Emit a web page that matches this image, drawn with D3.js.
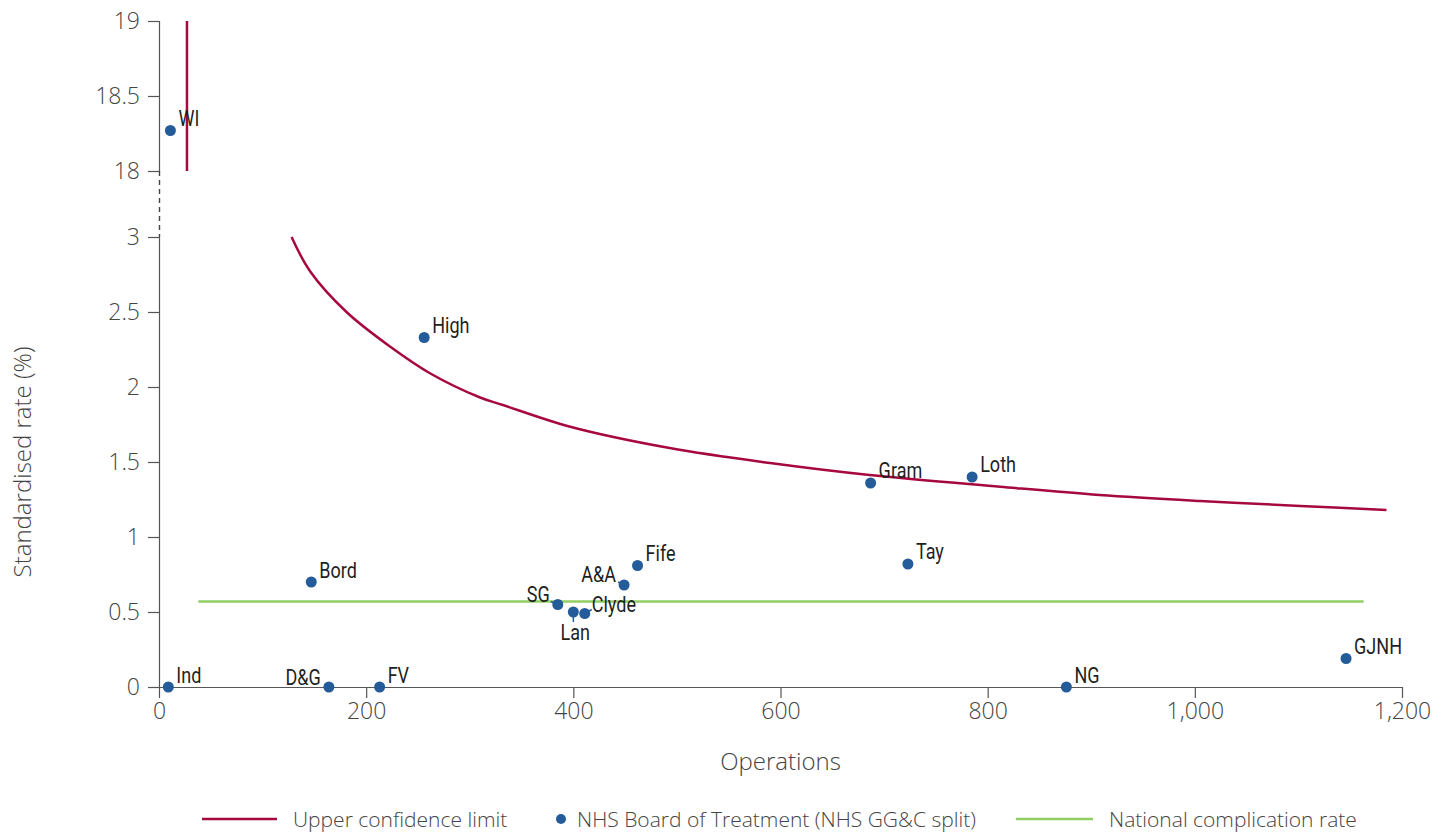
<!DOCTYPE html>
<html>
<head>
<meta charset="utf-8">
<script src="https://cdn.jsdelivr.net/npm/d3@7/dist/d3.min.js"></script>
<style>
  html, body { margin: 0; padding: 0; background: #fff; }
  svg { display: block; }
  .tick text { font-family: "Open Sans", "Noto Sans", sans-serif; font-weight: 300; font-size: 23px; fill: #444; }
  .board-label { font-family: Roboto, "Noto Sans", sans-serif; font-weight: 400; font-size: 22px; fill: #1f1f1f; }
  .title { font-family: "Open Sans", "Noto Sans", sans-serif; font-weight: 300; font-size: 24px; fill: #444; }
  .legend text { font-family: "Open Sans", "Noto Sans", sans-serif; font-weight: 300; font-size: 21px; fill: #444; }
</style>
</head>
<body>
<svg id="chart" width="1450" height="832"></svg>
<script>
// NHS boards of treatment: operations and standardised complication rate (%)
const boards     = ["WI", "Ind", "D&G", "FV", "High", "Bord", "SG", "Lan", "Clyde", "A&A", "Fife", "Gram", "Loth", "Tay", "NG", "GJNH"];
const operations = [11, 9, 164, 213, 256, 147, 385, 400, 411, 449, 462, 687, 785, 723, 876, 1146];
const rates      = [18.27, 0, 0, 0, 2.33, 0.70, 0.55, 0.50, 0.49, 0.68, 0.81, 1.36, 1.40, 0.82, 0, 0.19];

// Upper confidence limit curve (lower panel)
const uclOps   = [128, 146, 181, 223, 262, 310, 332, 397, 493, 590, 686, 812, 908, 1005, 1102, 1185];
const uclRates = [3.00, 2.77, 2.50, 2.27, 2.09, 1.93, 1.88, 1.735, 1.593, 1.493, 1.413, 1.335, 1.28, 1.24, 1.207, 1.18];
// Upper confidence limit where it runs off the top panel
const uclTopOps   = [27, 27];
const uclTopRates = [18, 19];

// National complication rate
const nationalOps  = [38, 1163];
const nationalRate = 0.57;

// Axis ticks
const xTicks      = [0, 200, 400, 600, 800, 1000, 1200];
const yTicksLow   = [0, 0.5, 1, 1.5, 2, 2.5, 3];
const yTicksHigh  = [18, 18.5, 19];

const legendItems = ["Upper confidence limit", "NHS Board of Treatment (NHS GG&C split)", "National complication rate"];

// Label placement around each dot: [dx, dy, anchor, leader line]
const labelPlacement = {
  "WI":    [8, -5, "start"],
  "Ind":   [8, -4, "start"],
  "D&G":   [-8, -2, "end"],
  "FV":    [8, -4, "start"],
  "High":  [8, -5, "start"],
  "Bord":  [8, -4, "start"],
  "SG":    [-8, -3, "end", [-7, -3]],
  "Lan":   [2, 28, "middle", [0, 10]],
  "Clyde": [7, -2, "start", [7, -4]],
  "A&A":   [-8, -3, "end", [-6, -3]],
  "Fife":  [8, -5, "start"],
  "Gram":  [8, -5, "start"],
  "Loth":  [8, -5, "start"],
  "Tay":   [8, -5, "start"],
  "NG":    [8, -4, "start"],
  "GJNH":  [8, -5, "start"]
};
const labelCondense = 0.82;

const colors = { ucl: "#a6093d", board: "#245c9a", national: "#92cf62", axis: "#555" };

const svg = d3.select("#chart");

const x = d3.scaleLinear().domain([0, 1200]).range([159, 1402]);
const yLow = d3.scaleLinear().domain([0, 3]).range([687, 237]);
const yHigh = d3.scaleLinear().domain([18, 19]).range([171, 21]);
const yOf = v => v >= 18 ? yHigh(v) : yLow(v);

// Axes
const styleAxis = g => {
  g.selectAll(".domain").attr("stroke", colors.axis).attr("stroke-width", 1.2);
  g.selectAll(".tick line").attr("stroke", colors.axis).attr("stroke-width", 1.2);
};

svg.append("g")
  .attr("transform", "translate(0,687)")
  .call(d3.axisBottom(x).tickValues(xTicks).tickFormat(d3.format(",")).tickSizeOuter(0).tickSize(11).tickPadding(5))
  .call(styleAxis)
  .call(g => g.select(".domain").attr("d", "M148,0.5H1402.5"));

svg.append("g")
  .attr("transform", "translate(159,0)")
  .call(d3.axisLeft(yLow).tickValues(yTicksLow).tickFormat(d => String(d)).tickSizeOuter(0).tickSize(11).tickPadding(8))
  .call(styleAxis);

svg.append("g")
  .attr("transform", "translate(159,0)")
  .call(d3.axisLeft(yHigh).tickValues(yTicksHigh).tickFormat(d => String(d)).tickSizeOuter(0).tickSize(11).tickPadding(8))
  .call(styleAxis);

// Break in the y axis
svg.append("line")
  .attr("x1", 159.5).attr("x2", 159.5)
  .attr("y1", yHigh(18)).attr("y2", yLow(3))
  .attr("stroke", "#444").attr("stroke-width", 1.4)
  .attr("stroke-dasharray", "5,4");

// Axis titles
svg.append("text").attr("class", "title")
  .attr("x", x(600)).attr("y", 770)
  .attr("text-anchor", "middle").text("Operations");

svg.append("text").attr("class", "title")
  .attr("transform", `translate(31,${yLow(1.5)}) rotate(-90)`)
  .attr("text-anchor", "middle").text("Standardised rate (%)");

// National complication rate
svg.append("line")
  .attr("x1", x(nationalOps[0])).attr("x2", x(nationalOps[1]))
  .attr("y1", yLow(nationalRate)).attr("y2", yLow(nationalRate))
  .attr("stroke", colors.national).attr("stroke-width", 2.5);

// Upper confidence limit
const ucl = d3.line().x(d => x(d[0])).y(d => yLow(d[1])).curve(d3.curveCatmullRom.alpha(0.5));
svg.append("path")
  .attr("d", ucl(d3.zip(uclOps, uclRates)))
  .attr("fill", "none").attr("stroke", colors.ucl).attr("stroke-width", 2.5);

svg.append("path")
  .attr("d", d3.line().x(d => x(d[0])).y(d => yHigh(d[1]))(d3.zip(uclTopOps, uclTopRates)))
  .attr("fill", "none").attr("stroke", colors.ucl).attr("stroke-width", 2.5);

// Boards
const pts = boards.map((b, i) => ({ name: b, ops: operations[i], rate: rates[i] }));

const leaders = pts.filter(p => labelPlacement[p.name][3]);
svg.append("g").selectAll("line").data(leaders).join("line")
  .attr("x1", p => x(p.ops)).attr("y1", p => yOf(p.rate))
  .attr("x2", p => x(p.ops) + labelPlacement[p.name][3][0])
  .attr("y2", p => yOf(p.rate) + labelPlacement[p.name][3][1])
  .attr("stroke", colors.board).attr("stroke-width", 1.5);

svg.append("g").selectAll("circle").data(pts).join("circle")
  .attr("cx", p => x(p.ops)).attr("cy", p => yOf(p.rate))
  .attr("r", 5.5).attr("fill", colors.board);

svg.append("g").selectAll("text").data(pts).join("text")
  .attr("class", "board-label")
  .attr("transform", p => `translate(${x(p.ops) + labelPlacement[p.name][0]},${yOf(p.rate) + labelPlacement[p.name][1]}) scale(${labelCondense},1)`)
  .attr("text-anchor", p => labelPlacement[p.name][2])
  .text(p => p.name);

// Legend
const legend = svg.append("g").attr("class", "legend");
legend.append("line").attr("x1", 202).attr("x2", 277).attr("y1", 819).attr("y2", 819)
  .attr("stroke", colors.ucl).attr("stroke-width", 2.5);
legend.append("text").attr("x", 293).attr("y", 827).text(legendItems[0]);
legend.append("circle").attr("cx", 561).attr("cy", 819).attr("r", 5).attr("fill", colors.board);
legend.append("text").attr("x", 577).attr("y", 827).text(legendItems[1]);
legend.append("line").attr("x1", 1016).attr("x2", 1093).attr("y1", 819).attr("y2", 819)
  .attr("stroke", colors.national).attr("stroke-width", 2.5);
legend.append("text").attr("x", 1109).attr("y", 827).text(legendItems[2]);
</script>
</body>
</html>
